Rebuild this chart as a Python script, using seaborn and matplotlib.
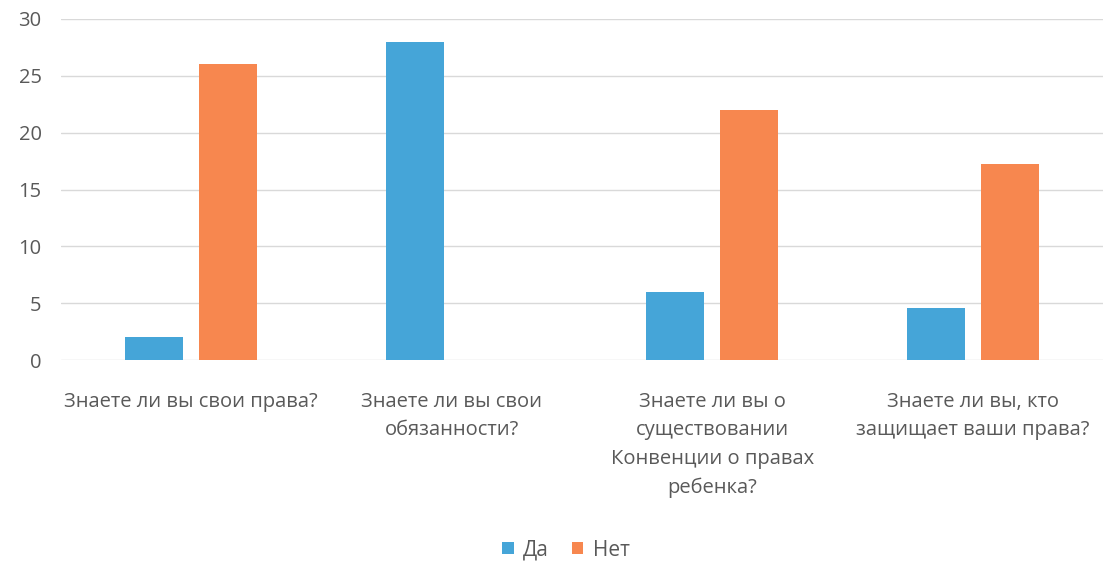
import matplotlib
matplotlib.use("Agg")
import matplotlib.pyplot as plt
import seaborn as sns
import pandas as pd

categories = [
    "Знаете ли вы свои права?",
    "Знаете ли вы свои\nобязанности?",
    "Знаете ли вы о\nсуществовании\nКонвенции о правах\nребенка?",
    "Знаете ли вы, кто\nзащищает ваши права?",
]
series_names = ["Да", "Нет"]
da_values = [2, 28, 6, 4.6]
net_values = [26, 0, 22, 17.2]
y_ticks = [0, 5, 10, 15, 20, 25, 30]

colors = {"Да": "#45A5D8", "Нет": "#F7874F"}

rows = []
for c, d, n in zip(categories, da_values, net_values):
    rows.append({"q": c, "s": "Да", "v": d})
    rows.append({"q": c, "s": "Нет", "v": n})
df = pd.DataFrame(rows)

sns.set_theme(style="white")
plt.rcParams["font.family"] = ["Open Sans", "DejaVu Sans"]

fig = plt.figure(figsize=(11.09, 5.72), dpi=100)
ax = fig.add_axes([61 / 1109, 1 - 360 / 572, 1042 / 1109, 341 / 572])

sns.barplot(data=df, x="q", y="v", hue="s", palette=colors, width=0.57, gap=0.22,
            ax=ax, legend=False, saturation=1, linewidth=0)

ax.set_ylim(0, 30)
ax.set_yticks(y_ticks)
ax.set_xlim(-0.5, len(categories) - 0.5)
ax.yaxis.grid(True, color="#D9D9D9", linewidth=1)
ax.set_axisbelow(True)
for s in ax.spines.values():
    s.set_visible(False)
ax.set_xlabel("")
ax.set_ylabel("")
ax.tick_params(axis="y", labelsize=14.5, colors="#595959", length=0, pad=14)
ax.tick_params(axis="x", labelsize=14.5, colors="#595959", length=0, pad=23)
for lab in ax.get_xticklabels():
    lab.set_linespacing(1.56)
    lab.set_va("top")

from matplotlib.patches import Patch
handles = [Patch(facecolor=colors[s], edgecolor="none") for s in series_names]
fig.legend(handles, series_names, loc="center", bbox_to_anchor=(566 / 1109, 1 - 550 / 572),
           ncol=2, frameon=False, fontsize=15, handlelength=0.55, handleheight=0.55,
           handletextpad=0.45, columnspacing=1.1, labelcolor="#595959")

fig.savefig("out.png", dpi=100)
